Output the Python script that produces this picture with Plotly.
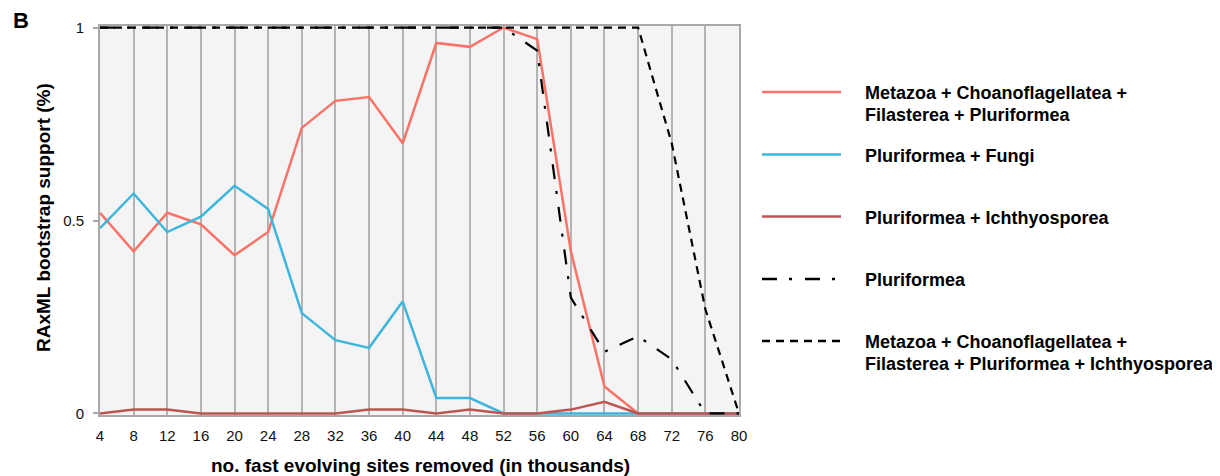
import plotly.graph_objects as go

# ---- data ----
sites_removed = [4, 8, 12, 16, 20, 24, 28, 32, 36, 40, 44, 48, 52, 56, 60, 64, 68, 72, 76, 80]

metazoa_choano_filast_pluri = [0.52, 0.42, 0.52, 0.49, 0.41, 0.47, 0.74, 0.81, 0.82, 0.70,
                               0.96, 0.95, 1.00, 0.97, 0.42, 0.07, 0.00, 0.00, 0.00, 0.00]
pluri_fungi = [0.48, 0.57, 0.47, 0.51, 0.59, 0.53, 0.26, 0.19, 0.17, 0.29,
               0.04, 0.04, 0.00, 0.00, 0.00, 0.00, 0.00, 0.00, 0.00, 0.00]
pluri_ichthyo = [0.00, 0.01, 0.01, 0.00, 0.00, 0.00, 0.00, 0.00, 0.01, 0.01,
                 0.00, 0.01, 0.00, 0.00, 0.01, 0.03, 0.00, 0.00, 0.00, 0.00]
pluriformea = [1.00, 1.00, 1.00, 1.00, 1.00, 1.00, 1.00, 1.00, 1.00, 1.00,
               1.00, 1.00, 1.00, 0.94, 0.30, 0.16, 0.20, 0.14, 0.00, 0.00]
metazoa_all_ichthyo = [1.00, 1.00, 1.00, 1.00, 1.00, 1.00, 1.00, 1.00, 1.00, 1.00,
                       1.00, 1.00, 1.00, 1.00, 1.00, 1.00, 1.00, 0.70, 0.27, 0.00]

y_tick_vals = [0, 0.5, 1]
y_tick_text = ["0", "0.5", "1"]

series_names = [
    ["Metazoa + Choanoflagellatea +", "Filasterea + Pluriformea"],
    ["Pluriformea + Fungi"],
    ["Pluriformea + Ichthyosporea"],
    ["Pluriformea"],
    ["Metazoa + Choanoflagellatea +", "Filasterea + Pluriformea + Ichthyosporea"],
]
series_values = [metazoa_choano_filast_pluri, pluri_fungi, pluri_ichthyo, pluriformea, metazoa_all_ichthyo]
series_colors = ["#FA7268", "#3DB6DD", "#BE5552", "#000000", "#000000"]
series_dash = ["solid", "solid", "solid", "15px,12px,3px,13px", "8px,6px"]
series_width = [2.5, 2.5, 2.5, 2.2, 2.2]

FONT = "Liberation Sans, Arial, sans-serif"

fig = go.Figure()
for names, vals, col, dash, w in zip(series_names, series_values, series_colors, series_dash, series_width):
    fig.add_trace(go.Scatter(
        x=sites_removed, y=vals, mode="lines",
        name=" ".join(names),
        line=dict(color=col, width=w, dash=dash),
        showlegend=False,
    ))

# ---- geometry (page has an 8px body margin) ----
OFF = 8
W, H = 1220 - OFF, 476 - OFF
M_L, M_R, M_T, M_B = 100 - OFF, 481, 26 - OFF, 61
PW = W - M_L - M_R
PH = H - M_T - M_B


def px_x(px):
    return (px - OFF - M_L) / PW


def px_y(py):
    return (OFF + H - M_B - py) / PH


# ---- manual legend ----
legend_line_y = [92, 154.5, 216.5, 279, 341]
legend_text_x = 863
shapes = []
annotations = []
for names, col, dash, ly in zip(series_names, series_colors, series_dash, legend_line_y):
    shapes.append(dict(type="line", xref="paper", yref="paper",
                       x0=px_x(762), x1=px_x(841), y0=px_y(ly), y1=px_y(ly),
                       line=dict(color=col, width=2.5, dash=dash)))
    for i, txt in enumerate(names):
        annotations.append(dict(
            text="<b>" + txt + "</b>", xref="paper", yref="paper",
            x=px_x(legend_text_x), y=px_y(ly + 22 * i + 1),
            xanchor="left", yanchor="middle", showarrow=False,
            font=dict(family=FONT, size=18, color="#000000"),
        ))

# panel letter
annotations.append(dict(text="<b>B</b>", xref="paper", yref="paper",
                        x=px_x(11), y=px_y(21), xanchor="left", yanchor="middle",
                        showarrow=False, font=dict(family=FONT, size=22, color="#000000")))
# axis titles
annotations.append(dict(text="<b>no. fast evolving sites removed (in thousands)</b>",
                        xref="paper", yref="paper", x=px_x(420), y=px_y(465),
                        xanchor="center", yanchor="middle", showarrow=False,
                        font=dict(family=FONT, size=19, color="#000000")))
annotations.append(dict(text="<b>RAxML bootstrap support (%)</b>",
                        xref="paper", yref="paper", x=px_x(43), y=px_y(218),
                        xanchor="center", yanchor="middle", showarrow=False, textangle=-90,
                        font=dict(family=FONT, size=19, color="#000000")))

fig.update_layout(
    width=W, height=H,
    margin=dict(l=M_L, r=M_R, t=M_T, b=M_B, pad=0),
    paper_bgcolor="white",
    plot_bgcolor="#F4F4F4",
    showlegend=False,
    shapes=shapes,
    annotations=annotations,
    xaxis=dict(
        range=[4, 80], tickmode="array", tickvals=sites_removed,
        ticktext=[str(v) for v in sites_removed],
        showgrid=True, gridcolor="#B4B4B4", gridwidth=1.5,
        showline=True, linecolor="#A8A8A8", linewidth=2, mirror=True,
        ticks="", ticklabelstandoff=6,
        tickfont=dict(family=FONT, size=15, color="#111111"),
        zeroline=False, fixedrange=True,
    ),
    yaxis=dict(
        range=[-0.004, 1.004], tickmode="array", tickvals=y_tick_vals, ticktext=y_tick_text,
        showgrid=False, zeroline=False,
        showline=True, linecolor="#A8A8A8", linewidth=2, mirror=True,
        ticks="outside", ticklen=5, tickcolor="#A8A8A8", tickwidth=1.5,
        ticklabelstandoff=6,
        tickfont=dict(family=FONT, size=15, color="#111111"),
        fixedrange=True,
    ),
)

fig.write_html("out.html")
